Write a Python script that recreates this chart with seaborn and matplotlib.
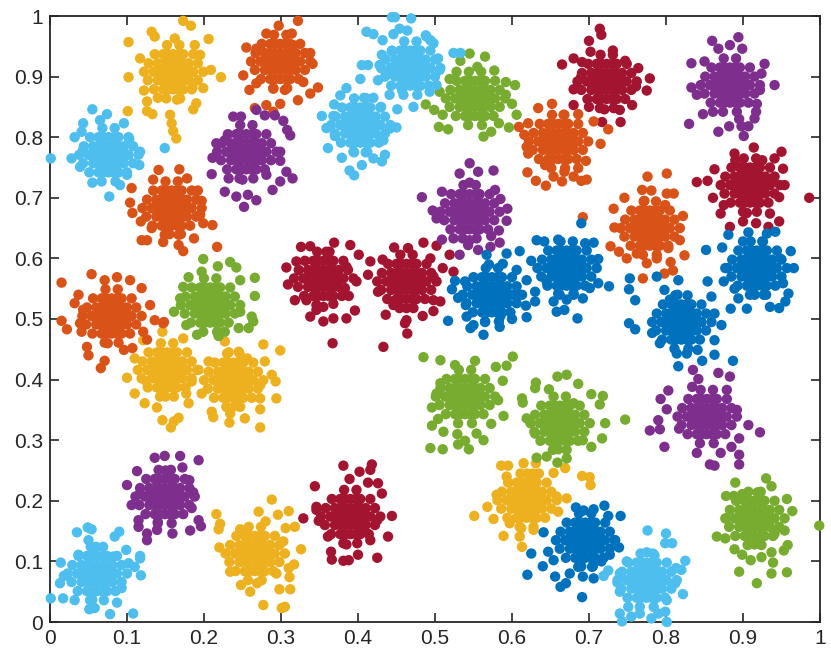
import matplotlib
matplotlib.use("Agg")
import matplotlib.pyplot as plt
import pandas as pd
import seaborn as sns

red = [
(.342,.596),(.355,.596),(.368,.596),(.335,.581),(.348,.581),(.362,.581),(.375,.581),(.329,.567),(.342,.567),(.355,.567),(.368,.567),(.381,.567),(.335,.553),(.348,.553),(.362,.553),(.375,.553),(.342,.538),(.355,.538),(.368,.538),(.355,.520),(.368,.525),
(.326,.619),(.338,.620),(.369,.626),(.390,.622),(.359,.611),(.401,.606),(.307,.585),(.320,.595),(.309,.557),(.318,.531),(.333,.531),(.346,.515),(.338,.504),(.355,.496),(.368,.501),(.385,.501),(.396,.514),(.388,.538),(.398,.562),(.383,.551),(.385,.586),(.367,.460),
(.450,.591),(.463,.591),(.476,.591),(.443,.576),(.456,.576),(.470,.576),(.483,.576),(.437,.562),(.450,.562),(.463,.562),(.476,.562),(.489,.562),(.443,.548),(.456,.548),(.470,.548),(.483,.548),(.450,.533),(.463,.533),(.476,.533),(.463,.518),
(.416,.595),(.413,.573),(.432,.598),(.447,.618),(.465,.617),(.485,.626),(.502,.621),(.426,.545),(.436,.507),(.446,.523),(.463,.498),(.484,.505),(.498,.531),(.519,.606),(.510,.584),(.524,.578),(.494,.600),(.498,.570),(.507,.529),(.498,.513),(.433,.454),(.464,.476),(.461,.493),
(.710,.921),(.723,.921),(.736,.921),(.703,.906),(.716,.906),(.730,.906),(.743,.906),(.697,.892),(.710,.892),(.723,.892),(.736,.892),(.749,.892),(.703,.878),(.716,.878),(.730,.878),(.743,.878),(.710,.863),(.723,.863),(.736,.863),(.700,.850),(.720,.846),
(.714,.979),(.716,.969),(.700,.959),(.702,.941),(.731,.943),(.680,.930),(.665,.920),(.691,.924),(.747,.926),(.764,.914),(.779,.897),(.761,.884),(.775,.877),(.680,.879),(.690,.900),(.680,.853),(.756,.853),(.741,.825),(.717,.825),(.740,.845),
(.896,.750),(.909,.750),(.922,.750),(.889,.735),(.902,.735),(.916,.735),(.929,.735),(.883,.721),(.896,.721),(.909,.721),(.922,.721),(.935,.721),(.889,.707),(.902,.707),(.916,.707),(.929,.707),(.896,.692),(.909,.692),(.922,.692),(.890,.762),(.925,.762),(.905,.675),
(.914,.783),(.950,.776),(.889,.773),(.941,.765),(.952,.748),(.863,.747),(.840,.726),(.854,.728),(.954,.721),(.947,.701),(.861,.700),(.986,.700),(.875,.688),(.871,.674),(.883,.652),(.933,.652),(.947,.661),(.935,.674),(.917,.658),(.900,.661),(.939,.730),
(.377,.203),(.390,.203),(.403,.203),(.370,.188),(.383,.188),(.397,.188),(.410,.188),(.364,.174),(.377,.174),(.390,.174),(.403,.174),(.416,.174),(.370,.160),(.383,.160),(.397,.160),(.410,.160),(.377,.145),(.390,.145),(.403,.145),(.385,.128),
(.418,.260),(.416,.251),(.381,.258),(.402,.248),(.389,.236),(.344,.224),(.426,.229),(.413,.230),(.431,.212),(.346,.190),(.346,.185),(.329,.171),(.444,.175),(.349,.167),(.425,.168),(.361,.141),(.439,.141),(.365,.116),(.366,.103),(.381,.101),(.388,.102),(.400,.111),(.425,.106),(.416,.135),(.407,.149),
]
red_dense = [
(.348,.596),(.362,.596),(.342,.581),(.355,.581),(.368,.581),(.335,.567),(.348,.567),(.362,.567),(.375,.567),(.342,.553),(.355,.553),(.368,.553),(.348,.538),(.362,.538),(.347,.611),(.363,.611),(.331,.596),(.381,.596),(.323,.581),(.387,.581),(.317,.567),(.394,.567),(.322,.553),(.330,.538),(.379,.538),(.346,.523),
(.456,.591),(.470,.591),(.450,.576),(.463,.576),(.476,.576),(.443,.562),(.456,.562),(.470,.562),(.483,.562),(.450,.548),(.463,.548),(.476,.548),(.456,.533),(.470,.533),(.455,.606),(.471,.606),(.439,.591),(.489,.591),(.431,.576),(.495,.576),(.425,.562),(.502,.562),(.430,.548),(.495,.548),(.438,.533),(.487,.533),(.454,.518),(.472,.518),
(.716,.921),(.730,.921),(.710,.906),(.723,.906),(.736,.906),(.703,.892),(.716,.892),(.730,.892),(.743,.892),(.710,.878),(.723,.878),(.736,.878),(.716,.863),(.730,.863),(.715,.936),(.731,.936),(.699,.921),(.749,.921),(.691,.906),(.755,.906),(.685,.892),(.762,.892),(.690,.878),(.755,.878),(.698,.863),(.747,.863),(.714,.848),(.732,.848),
(.902,.750),(.916,.750),(.896,.735),(.909,.735),(.922,.735),(.889,.721),(.902,.721),(.916,.721),(.929,.721),(.896,.707),(.909,.707),(.922,.707),(.902,.692),(.916,.692),(.901,.765),(.917,.765),(.885,.750),(.935,.750),(.877,.735),(.941,.735),(.871,.721),(.948,.721),(.876,.707),(.941,.707),(.884,.692),(.933,.692),(.900,.677),(.918,.677),
(.383,.203),(.397,.203),(.377,.188),(.390,.188),(.403,.188),(.370,.174),(.383,.174),(.397,.174),(.410,.174),(.377,.160),(.390,.160),(.403,.160),(.383,.145),(.397,.145),(.382,.218),(.398,.218),(.366,.203),(.416,.203),(.358,.188),(.422,.188),(.352,.174),(.429,.174),(.357,.160),(.422,.160),(.365,.145),(.414,.145),(.381,.130),(.399,.130),
]

yellow = [
(.147,.937),(.160,.937),(.173,.937),(.140,.922),(.153,.922),(.167,.922),(.180,.922),(.134,.908),(.147,.908),(.160,.908),(.173,.908),(.186,.908),(.140,.894),(.153,.894),(.167,.894),(.180,.894),(.147,.879),(.160,.879),(.173,.879),(.185,.882),(.140,.865),(.165,.862),
(.173,.992),(.183,.984),(.132,.974),(.136,.966),(.102,.957),(.206,.962),(.117,.930),(.102,.899),(.222,.899),(.209,.911),(.122,.877),(.101,.843),(.126,.859),(.126,.843),(.133,.838),(.156,.837),(.158,.823),(.160,.810),(.164,.798),(.186,.846),(.190,.856),(.199,.881),(.195,.936),(.188,.952),(.162,.963),
(.139,.445),(.152,.445),(.165,.445),(.132,.430),(.145,.430),(.159,.430),(.172,.430),(.126,.416),(.139,.416),(.152,.416),(.165,.416),(.178,.416),(.132,.402),(.145,.402),(.159,.402),(.172,.402),(.139,.387),(.152,.387),(.165,.387),(.150,.372),
(.146,.479),(.173,.468),(.110,.435),(.100,.403),(.110,.377),(.123,.361),(.139,.354),(.146,.333),(.167,.337),(.161,.331),(.157,.321),(.180,.361),(.193,.416),(.184,.397),(.177,.377),(.121,.465),(.125,.397),
(.225,.428),(.238,.428),(.251,.428),(.218,.413),(.231,.413),(.245,.413),(.258,.413),(.212,.399),(.225,.399),(.238,.399),(.251,.399),(.264,.399),(.218,.385),(.231,.385),(.245,.385),(.258,.385),(.225,.370),(.238,.370),(.251,.370),(.232,.445),(.240,.356),
(.227,.463),(.245,.446),(.277,.458),(.299,.448),(.279,.430),(.256,.435),(.206,.430),(.197,.377),(.210,.347),(.212,.338),(.233,.329),(.253,.336),(.273,.321),(.273,.351),(.294,.369),(.293,.397),(.288,.408),(.234,.344),(.273,.391),(.273,.369),
(.253,.142),(.266,.142),(.279,.142),(.246,.127),(.259,.127),(.273,.127),(.286,.127),(.240,.113),(.253,.113),(.266,.113),(.279,.113),(.292,.113),(.246,.099),(.259,.099),(.273,.099),(.286,.099),(.253,.084),(.266,.084),(.279,.084),
(.288,.202),(.271,.182),(.296,.177),(.310,.183),(.216,.178),(.221,.162),(.219,.153),(.280,.166),(.306,.155),(.318,.157),(.247,.153),(.220,.123),(.303,.133),(.326,.120),(.317,.095),(.310,.089),(.311,.074),(.298,.054),(.312,.054),(.277,.028),(.301,.023),(.305,.025),(.248,.061),(.260,.050),(.269,.064),(.234,.083),(.294,.080),
(.606,.230),(.619,.230),(.632,.230),(.599,.215),(.612,.215),(.626,.215),(.639,.215),(.593,.201),(.606,.201),(.619,.201),(.632,.201),(.645,.201),(.599,.187),(.612,.187),(.626,.187),(.639,.187),(.606,.172),(.619,.172),(.632,.172),(.620,.245),(.635,.245),(.612,.155),
(.586,.258),(.595,.258),(.615,.262),(.631,.262),(.654,.246),(.669,.254),(.691,.241),(.701,.239),(.702,.226),(.671,.204),(.551,.175),(.568,.190),(.576,.170),(.589,.142),(.610,.141),(.613,.124),(.628,.152),(.660,.182),(.580,.210),(.593,.240),(.658,.207),(.597,.163),
]
yellow_dense = [
(.153,.937),(.167,.937),(.147,.922),(.160,.922),(.173,.922),(.140,.908),(.153,.908),(.167,.908),(.180,.908),(.147,.894),(.160,.894),(.173,.894),(.153,.879),(.167,.879),(.152,.952),(.168,.952),(.136,.937),(.186,.937),(.128,.922),(.192,.922),(.122,.908),(.199,.908),(.127,.894),(.192,.894),(.135,.879),(.184,.879),(.151,.864),(.169,.864),
(.145,.445),(.159,.445),(.139,.430),(.152,.430),(.165,.430),(.132,.416),(.145,.416),(.159,.416),(.172,.416),(.139,.402),(.152,.402),(.165,.402),(.145,.387),(.159,.387),(.144,.460),(.160,.460),(.128,.445),(.178,.445),(.120,.430),(.184,.430),(.114,.416),(.191,.416),(.119,.402),(.184,.402),(.127,.387),(.176,.387),(.143,.372),(.161,.372),
(.231,.428),(.245,.428),(.225,.413),(.238,.413),(.251,.413),(.218,.399),(.231,.399),(.245,.399),(.258,.399),(.225,.385),(.238,.385),(.251,.385),(.231,.370),(.245,.370),(.230,.443),(.246,.443),(.214,.428),(.264,.428),(.206,.413),(.270,.413),(.200,.399),(.277,.399),(.205,.385),(.270,.385),(.213,.370),(.262,.370),(.229,.355),(.247,.355),
(.259,.142),(.273,.142),(.253,.127),(.266,.127),(.279,.127),(.246,.113),(.259,.113),(.273,.113),(.286,.113),(.253,.099),(.266,.099),(.279,.099),(.259,.084),(.273,.084),(.258,.157),(.274,.157),(.242,.142),(.292,.142),(.234,.127),(.298,.127),(.228,.113),(.305,.113),(.233,.099),(.298,.099),(.241,.084),(.290,.084),(.257,.069),(.275,.069),
(.612,.230),(.626,.230),(.606,.215),(.619,.215),(.632,.215),(.599,.201),(.612,.201),(.626,.201),(.639,.201),(.606,.187),(.619,.187),(.632,.187),(.612,.172),(.626,.172),(.611,.245),(.627,.245),(.595,.230),(.645,.230),(.587,.215),(.651,.215),(.581,.201),(.658,.201),(.586,.187),(.651,.187),(.594,.172),(.643,.172),(.610,.157),(.628,.157),
]

orange = [
(.286,.954),(.299,.954),(.312,.954),(.279,.939),(.292,.939),(.306,.939),(.319,.939),(.273,.925),(.286,.925),(.299,.925),(.312,.925),(.325,.925),(.279,.911),(.292,.911),(.306,.911),(.319,.911),(.286,.896),(.299,.896),(.312,.896),(.290,.880),(.305,.878),
(.322,.992),(.297,.984),(.281,.971),(.314,.971),(.255,.948),(.338,.939),(.341,.921),(.251,.902),(.259,.878),(.348,.882),(.338,.872),(.322,.861),(.266,.848),(.281,.853),(.299,.855),(.290,.842),(.329,.891),(.268,.946),(.268,.889),(.316,.952),
(.145,.712),(.158,.712),(.171,.712),(.138,.697),(.151,.697),(.165,.697),(.178,.697),(.132,.683),(.145,.683),(.158,.683),(.171,.683),(.184,.683),(.138,.669),(.151,.669),(.165,.669),(.178,.669),(.145,.654),(.158,.654),(.171,.654),(.155,.640),(.170,.640),
(.141,.746),(.168,.747),(.178,.732),(.134,.730),(.192,.712),(.106,.716),(.197,.695),(.104,.692),(.107,.675),(.118,.661),(.211,.655),(.199,.658),(.119,.630),(.126,.630),(.147,.627),(.167,.622),(.173,.612),(.187,.633),(.217,.619),(.195,.672),(.132,.650),
(.067,.534),(.080,.534),(.093,.534),(.060,.519),(.073,.519),(.087,.519),(.100,.519),(.054,.505),(.067,.505),(.080,.505),(.093,.505),(.106,.505),(.060,.491),(.073,.491),(.087,.491),(.100,.491),(.067,.476),(.080,.476),(.093,.476),(.075,.460),
(.054,.574),(.015,.560),(.087,.569),(.071,.564),(.104,.564),(.119,.551),(.037,.540),(.032,.526),(.043,.515),(.130,.523),(.136,.498),(.148,.495),(.015,.497),(.039,.493),(.022,.483),(.041,.479),(.050,.440),(.071,.431),(.066,.419),(.107,.452),(.096,.449),(.126,.466),(.147,.493),(.121,.479),(.048,.454),
(.647,.822),(.660,.822),(.673,.822),(.640,.807),(.653,.807),(.667,.807),(.680,.807),(.634,.793),(.647,.793),(.660,.793),(.673,.793),(.686,.793),(.640,.779),(.653,.779),(.667,.779),(.680,.779),(.647,.764),(.660,.764),(.673,.764),
(.652,.855),(.634,.848),(.609,.817),(.621,.823),(.616,.804),(.619,.784),(.621,.773),(.620,.742),(.631,.728),(.644,.720),(.654,.735),(.665,.727),(.680,.735),(.690,.728),(.697,.730),(.686,.749),(.696,.761),(.715,.789),(.725,.813),(.706,.826),(.686,.838),(.667,.837),(.643,.754),(.668,.743),
(.766,.679),(.779,.679),(.792,.679),(.759,.664),(.772,.664),(.786,.664),(.799,.664),(.753,.650),(.766,.650),(.779,.650),(.792,.650),(.805,.650),(.759,.636),(.772,.636),(.786,.636),(.799,.636),(.766,.621),(.779,.621),(.792,.621),
(.776,.735),(.801,.740),(.769,.713),(.781,.712),(.801,.707),(.810,.707),(.746,.700),(.732,.682),(.799,.688),(.822,.670),(.733,.651),(.728,.620),(.739,.611),(.749,.600),(.818,.630),(.824,.605),(.806,.594),(.809,.580),(.798,.575),(.770,.567),(.692,.668),(.775,.592),(.788,.600),(.762,.608),(.803,.617),(.772,.695),
]
orange_dense = [
(.292,.954),(.306,.954),(.286,.939),(.299,.939),(.312,.939),(.279,.925),(.292,.925),(.306,.925),(.319,.925),(.286,.911),(.299,.911),(.312,.911),(.292,.896),(.306,.896),(.291,.969),(.307,.969),(.275,.954),(.325,.954),(.267,.939),(.331,.939),(.261,.925),(.338,.925),(.266,.911),(.331,.911),(.274,.896),(.323,.896),(.290,.881),(.308,.881),
(.151,.712),(.165,.712),(.145,.697),(.158,.697),(.171,.697),(.138,.683),(.151,.683),(.165,.683),(.178,.683),(.145,.669),(.158,.669),(.171,.669),(.151,.654),(.165,.654),(.150,.727),(.166,.727),(.134,.712),(.184,.712),(.126,.697),(.190,.697),(.120,.683),(.197,.683),(.125,.669),(.190,.669),(.133,.654),(.182,.654),(.149,.639),(.167,.639),
(.073,.534),(.087,.534),(.067,.519),(.080,.519),(.093,.519),(.060,.505),(.073,.505),(.087,.505),(.100,.505),(.067,.491),(.080,.491),(.093,.491),(.073,.476),(.087,.476),(.072,.549),(.088,.549),(.056,.534),(.106,.534),(.048,.519),(.112,.519),(.042,.505),(.119,.505),(.047,.491),(.112,.491),(.055,.476),(.104,.476),(.071,.461),(.089,.461),
(.653,.822),(.667,.822),(.647,.807),(.660,.807),(.673,.807),(.640,.793),(.653,.793),(.667,.793),(.680,.793),(.647,.779),(.660,.779),(.673,.779),(.653,.764),(.667,.764),(.652,.837),(.668,.837),(.636,.822),(.686,.822),(.628,.807),(.692,.807),(.622,.793),(.699,.793),(.627,.779),(.692,.779),(.635,.764),(.684,.764),(.651,.749),(.669,.749),
(.772,.679),(.786,.679),(.766,.664),(.779,.664),(.792,.664),(.759,.650),(.772,.650),(.786,.650),(.799,.650),(.766,.636),(.779,.636),(.792,.636),(.772,.621),(.786,.621),(.771,.694),(.787,.694),(.755,.679),(.805,.679),(.747,.664),(.811,.664),(.741,.650),(.818,.650),(.746,.636),(.811,.636),(.754,.621),(.803,.621),(.770,.606),(.788,.606),
]

green = [
(.195,.552),(.208,.552),(.221,.552),(.188,.537),(.201,.537),(.215,.537),(.228,.537),(.182,.523),(.195,.523),(.208,.523),(.221,.523),(.234,.523),(.188,.509),(.201,.509),(.215,.509),(.228,.509),(.195,.494),(.208,.494),(.221,.494),
(.199,.599),(.218,.587),(.234,.594),(.242,.585),(.197,.578),(.180,.569),(.266,.568),(.247,.564),(.173,.553),(.266,.538),(.169,.534),(.161,.512),(.262,.504),(.247,.512),(.258,.485),(.191,.474),(.219,.472),(.227,.479),(.245,.485),(.177,.490),(.264,.496),
(.539,.893),(.552,.893),(.565,.893),(.532,.878),(.545,.878),(.559,.878),(.572,.878),(.526,.864),(.539,.864),(.552,.864),(.565,.864),(.578,.864),(.532,.850),(.545,.850),(.559,.850),(.572,.850),(.539,.835),(.552,.835),(.565,.835),
(.545,.938),(.565,.933),(.533,.926),(.555,.916),(.577,.910),(.519,.896),(.604,.886),(.592,.891),(.592,.870),(.600,.855),(.606,.837),(.488,.854),(.499,.845),(.505,.817),(.517,.813),(.596,.816),(.583,.823),(.563,.801),(.573,.809),(.510,.837),(.506,.875),(.528,.908),
(.526,.401),(.539,.401),(.552,.401),(.519,.386),(.532,.386),(.546,.386),(.559,.386),(.513,.372),(.526,.372),(.539,.372),(.552,.372),(.565,.372),(.519,.358),(.532,.358),(.546,.358),(.559,.358),(.526,.343),(.539,.343),(.552,.343),
(.485,.437),(.601,.438),(.507,.432),(.552,.431),(.593,.423),(.579,.421),(.526,.424),(.507,.394),(.588,.398),(.582,.366),(.496,.354),(.589,.340),(.504,.335),(.496,.324),(.573,.327),(.511,.314),(.529,.310),(.554,.311),(.539,.299),(.530,.293),(.563,.300),(.494,.287),(.510,.285),(.544,.285),(.502,.377),
(.649,.357),(.662,.357),(.675,.357),(.642,.342),(.655,.342),(.669,.342),(.682,.342),(.636,.328),(.649,.328),(.662,.328),(.675,.328),(.688,.328),(.642,.314),(.655,.314),(.669,.314),(.682,.314),(.649,.299),(.662,.299),(.675,.299),(.660,.285),
(.671,.408),(.659,.405),(.631,.395),(.630,.386),(.648,.384),(.686,.393),(.703,.376),(.718,.373),(.613,.369),(.614,.362),(.714,.359),(.747,.334),(.619,.336),(.721,.328),(.717,.303),(.703,.289),(.632,.271),(.645,.273),(.659,.263),(.671,.270),(.680,.361),(.630,.311),(.692,.300),
(.902,.200),(.915,.200),(.928,.200),(.895,.185),(.908,.185),(.922,.185),(.935,.185),(.889,.171),(.902,.171),(.915,.171),(.928,.171),(.941,.171),(.895,.157),(.908,.157),(.922,.157),(.935,.157),(.902,.142),(.915,.142),(.928,.142),(.915,.128),
(.930,.237),(.890,.230),(.937,.224),(.878,.208),(.888,.208),(.899,.211),(.919,.214),(.957,.203),(.964,.183),(.999,.159),(.878,.171),(.954,.151),(.866,.141),(.877,.138),(.958,.127),(.889,.120),(.953,.118),(.899,.111),(.910,.102),(.924,.107),(.937,.115),(.939,.098),(.895,.083),(.937,.080),(.957,.082),(.918,.064),(.941,.146),
]
green_dense = [
(.201,.552),(.215,.552),(.195,.537),(.208,.537),(.221,.537),(.188,.523),(.201,.523),(.215,.523),(.228,.523),(.195,.509),(.208,.509),(.221,.509),(.201,.494),(.215,.494),(.200,.567),(.216,.567),(.184,.552),(.234,.552),(.176,.537),(.240,.537),(.170,.523),(.247,.523),(.175,.509),(.240,.509),(.183,.494),(.232,.494),(.199,.479),(.217,.479),
(.545,.893),(.559,.893),(.539,.878),(.552,.878),(.565,.878),(.532,.864),(.545,.864),(.559,.864),(.572,.864),(.539,.850),(.552,.850),(.565,.850),(.545,.835),(.559,.835),(.544,.908),(.560,.908),(.528,.893),(.578,.893),(.520,.878),(.584,.878),(.514,.864),(.591,.864),(.519,.850),(.584,.850),(.527,.835),(.576,.835),(.543,.820),(.561,.820),
(.532,.401),(.546,.401),(.526,.386),(.539,.386),(.552,.386),(.519,.372),(.532,.372),(.546,.372),(.559,.372),(.526,.358),(.539,.358),(.552,.358),(.532,.343),(.546,.343),(.531,.416),(.547,.416),(.515,.401),(.565,.401),(.507,.386),(.571,.386),(.501,.372),(.578,.372),(.506,.358),(.571,.358),(.514,.343),(.563,.343),(.530,.328),(.548,.328),
(.655,.357),(.669,.357),(.649,.342),(.662,.342),(.675,.342),(.642,.328),(.655,.328),(.669,.328),(.682,.328),(.649,.314),(.662,.314),(.675,.314),(.655,.299),(.669,.299),(.654,.372),(.670,.372),(.638,.357),(.688,.357),(.630,.342),(.694,.342),(.624,.328),(.701,.328),(.629,.314),(.694,.314),(.637,.299),(.686,.299),(.653,.284),(.671,.284),
(.908,.200),(.922,.200),(.902,.185),(.915,.185),(.928,.185),(.895,.171),(.908,.171),(.922,.171),(.935,.171),(.902,.157),(.915,.157),(.928,.157),(.908,.142),(.922,.142),(.907,.215),(.923,.215),(.891,.200),(.941,.200),(.883,.185),(.947,.185),(.877,.171),(.954,.171),(.882,.157),(.947,.157),(.890,.142),(.939,.142),(.906,.127),(.924,.127),
]

purple = [
(.242,.805),(.255,.805),(.268,.805),(.235,.790),(.248,.790),(.262,.790),(.275,.790),(.229,.776),(.242,.776),(.255,.776),(.268,.776),(.281,.776),(.235,.762),(.248,.762),(.262,.762),(.275,.762),(.242,.747),(.255,.747),(.268,.747),(.250,.730),
(.238,.834),(.248,.834),(.268,.845),(.279,.836),(.292,.836),(.303,.827),(.308,.812),(.312,.803),(.227,.795),(.216,.790),(.211,.766),(.210,.739),(.299,.776),(.299,.761),(.307,.743),(.315,.732),(.299,.727),(.289,.713),(.227,.710),(.242,.702),(.252,.685),(.268,.696),(.257,.705),(.232,.732),(.281,.738),
(.532,.706),(.545,.706),(.558,.706),(.525,.691),(.538,.691),(.552,.691),(.565,.691),(.519,.677),(.532,.677),(.545,.677),(.558,.677),(.571,.677),(.525,.663),(.538,.663),(.552,.663),(.565,.663),(.532,.648),(.545,.648),(.558,.648),(.545,.630),
(.545,.757),(.532,.740),(.556,.743),(.576,.745),(.509,.710),(.578,.713),(.585,.698),(.594,.682),(.497,.679),(.502,.666),(.593,.662),(.583,.646),(.573,.637),(.584,.626),(.509,.631),(.532,.606),(.556,.614),(.572,.619),(.483,.701),(.524,.633),(.543,.622),(.545,.725),
(.870,.915),(.883,.915),(.896,.915),(.863,.900),(.876,.900),(.890,.900),(.903,.900),(.857,.886),(.870,.886),(.883,.886),(.896,.886),(.909,.886),(.863,.872),(.876,.872),(.890,.872),(.903,.872),(.870,.857),(.883,.857),(.896,.857),
(.894,.965),(.860,.959),(.883,.952),(.899,.946),(.868,.946),(.833,.922),(.850,.925),(.928,.921),(.924,.905),(.941,.886),(.833,.882),(.922,.878),(.840,.870),(.918,.855),(.917,.842),(.848,.838),(.830,.822),(.868,.809),(.882,.818),(.895,.830),(.898,.818),(.907,.818),(.901,.802),(.915,.831),(.861,.842),
(.840,.368),(.853,.368),(.866,.368),(.833,.353),(.846,.353),(.860,.353),(.873,.353),(.827,.339),(.840,.339),(.853,.339),(.866,.339),(.879,.339),(.833,.325),(.846,.325),(.860,.325),(.873,.325),(.840,.310),(.853,.310),(.866,.310),
(.835,.416),(.842,.401),(.868,.411),(.883,.405),(.803,.382),(.793,.368),(.801,.351),(.790,.333),(.779,.316),(.792,.318),(.817,.319),(.798,.289),(.840,.279),(.871,.279),(.885,.289),(.895,.276),(.857,.260),(.863,.258),(.895,.260),(.895,.303),(.922,.313),(.907,.325),(.892,.350),(.879,.383),(.834,.388),
(.136,.236),(.149,.236),(.162,.236),(.129,.221),(.142,.221),(.156,.221),(.169,.221),(.123,.207),(.136,.207),(.149,.207),(.162,.207),(.175,.207),(.129,.193),(.142,.193),(.156,.193),(.169,.193),(.136,.178),(.149,.178),(.162,.178),(.150,.250),(.140,.165),
(.136,.271),(.149,.274),(.169,.274),(.193,.267),(.113,.249),(.172,.255),(.100,.226),(.181,.234),(.186,.214),(.106,.193),(.184,.188),(.193,.168),(.196,.158),(.115,.168),(.115,.157),(.182,.151),(.159,.146),(.126,.135),(.139,.152),(.126,.146),(.117,.212),
]
purple_dense = [
(.248,.805),(.262,.805),(.242,.790),(.255,.790),(.268,.790),(.235,.776),(.248,.776),(.262,.776),(.275,.776),(.242,.762),(.255,.762),(.268,.762),(.248,.747),(.262,.747),(.247,.820),(.263,.820),(.231,.805),(.281,.805),(.223,.790),(.287,.790),(.217,.776),(.294,.776),(.222,.762),(.287,.762),(.230,.747),(.279,.747),(.246,.732),(.264,.732),
(.538,.706),(.552,.706),(.532,.691),(.545,.691),(.558,.691),(.525,.677),(.538,.677),(.552,.677),(.565,.677),(.532,.663),(.545,.663),(.558,.663),(.538,.648),(.552,.648),(.537,.721),(.553,.721),(.521,.706),(.571,.706),(.513,.691),(.577,.691),(.507,.677),(.584,.677),(.512,.663),(.577,.663),(.520,.648),(.569,.648),(.536,.633),(.554,.633),
(.876,.915),(.890,.915),(.870,.900),(.883,.900),(.896,.900),(.863,.886),(.876,.886),(.890,.886),(.903,.886),(.870,.872),(.883,.872),(.896,.872),(.876,.857),(.890,.857),(.875,.930),(.891,.930),(.859,.915),(.909,.915),(.851,.900),(.915,.900),(.845,.886),(.922,.886),(.850,.872),(.915,.872),(.858,.857),(.907,.857),(.874,.842),(.892,.842),
(.846,.368),(.860,.368),(.840,.353),(.853,.353),(.866,.353),(.833,.339),(.846,.339),(.860,.339),(.873,.339),(.840,.325),(.853,.325),(.866,.325),(.846,.310),(.860,.310),(.845,.383),(.861,.383),(.829,.368),(.879,.368),(.821,.353),(.885,.353),(.815,.339),(.892,.339),(.820,.325),(.885,.325),(.828,.310),(.877,.310),(.844,.295),(.862,.295),
(.142,.236),(.156,.236),(.136,.221),(.149,.221),(.162,.221),(.129,.207),(.142,.207),(.156,.207),(.169,.207),(.136,.193),(.149,.193),(.162,.193),(.142,.178),(.156,.178),(.141,.251),(.157,.251),(.125,.236),(.175,.236),(.117,.221),(.181,.221),(.111,.207),(.188,.207),(.116,.193),(.181,.193),(.124,.178),(.173,.178),(.140,.163),(.158,.163),
]

blue = [
(.561,.569),(.574,.569),(.587,.569),(.554,.554),(.567,.554),(.581,.554),(.594,.554),(.548,.540),(.561,.540),(.574,.540),(.587,.540),(.600,.540),(.554,.526),(.567,.526),(.581,.526),(.594,.526),(.561,.511),(.574,.511),(.587,.511),(.570,.590),(.565,.495),
(.593,.608),(.610,.612),(.588,.591),(.606,.581),(.526,.563),(.522,.549),(.517,.497),(.619,.503),(.618,.522),(.541,.504),(.540,.523),(.539,.562),(.567,.606),(.563,.474),(.546,.485),(.584,.487),(.600,.500),(.530,.535),(.610,.540),(.550,.490),(.585,.505),
(.658,.613),(.671,.613),(.684,.613),(.651,.598),(.664,.598),(.678,.598),(.691,.598),(.645,.584),(.658,.584),(.671,.584),(.684,.584),(.697,.584),(.651,.570),(.664,.570),(.678,.570),(.691,.570),(.658,.555),(.671,.555),(.684,.555),(.660,.542),(.680,.542),
(.632,.630),(.642,.628),(.660,.631),(.706,.626),(.695,.625),(.712,.599),(.625,.596),(.619,.564),(.726,.554),(.712,.559),(.630,.529),(.654,.529),(.658,.512),(.668,.515),(.685,.501),(.692,.534),(.671,.532),(.630,.545),(.645,.562),(.701,.551),(.690,.658),
(.807,.524),(.820,.524),(.833,.524),(.800,.509),(.813,.509),(.827,.509),(.840,.509),(.794,.495),(.807,.495),(.820,.495),(.833,.495),(.846,.495),(.800,.481),(.813,.481),(.827,.481),(.840,.481),(.807,.466),(.820,.466),(.833,.466),(.815,.540),(.805,.532),
(.753,.567),(.752,.549),(.760,.531),(.788,.570),(.816,.564),(.854,.562),(.859,.537),(.863,.509),(.872,.490),(.798,.548),(.752,.493),(.760,.483),(.863,.465),(.863,.441),(.847,.431),(.887,.431),(.816,.422),(.827,.443),(.814,.443),(.841,.449),(.792,.460),(.782,.477),
(.905,.613),(.918,.613),(.931,.613),(.898,.598),(.911,.598),(.925,.598),(.938,.598),(.892,.584),(.905,.584),(.918,.584),(.931,.584),(.944,.584),(.898,.570),(.911,.570),(.925,.570),(.938,.570),(.905,.555),(.918,.555),(.931,.555),(.915,.540),(.930,.540),(.900,.628),(.925,.628),
(.852,.614),(.873,.618),(.881,.639),(.907,.643),(.931,.641),(.942,.644),(.962,.612),(.966,.584),(.952,.559),(.959,.542),(.955,.529),(.947,.518),(.935,.520),(.905,.517),(.894,.534),(.884,.517),(.875,.562),(.877,.584),(.948,.600),(.889,.550),
(.682,.164),(.695,.164),(.708,.164),(.675,.149),(.688,.149),(.702,.149),(.715,.149),(.669,.135),(.682,.135),(.695,.135),(.708,.135),(.721,.135),(.675,.121),(.688,.121),(.702,.121),(.715,.121),(.682,.106),(.695,.106),(.708,.106),(.690,.092),(.705,.092),
(.683,.189),(.693,.184),(.706,.186),(.720,.192),(.741,.175),(.725,.175),(.641,.148),(.625,.113),(.647,.116),(.640,.092),(.620,.078),(.656,.075),(.663,.058),(.670,.064),(.691,.041),(.706,.072),(.739,.123),(.727,.111),(.733,.135),(.716,.100),(.675,.080),(.692,.075),(.654,.102),
]
blue_dense = [
(.567,.569),(.581,.569),(.561,.554),(.574,.554),(.587,.554),(.554,.540),(.567,.540),(.581,.540),(.594,.540),(.561,.526),(.574,.526),(.587,.526),(.567,.511),(.581,.511),(.566,.584),(.582,.584),(.550,.569),(.600,.569),(.542,.554),(.606,.554),(.536,.540),(.613,.540),(.541,.526),(.606,.526),(.549,.511),(.598,.511),(.565,.496),(.583,.496),
(.664,.613),(.678,.613),(.658,.598),(.671,.598),(.684,.598),(.651,.584),(.664,.584),(.678,.584),(.691,.584),(.658,.570),(.671,.570),(.684,.570),(.664,.555),(.678,.555),(.663,.628),(.679,.628),(.647,.613),(.697,.613),(.639,.598),(.703,.598),(.633,.584),(.710,.584),(.638,.570),(.703,.570),(.646,.555),(.695,.555),(.662,.540),(.680,.540),
(.813,.524),(.827,.524),(.807,.509),(.820,.509),(.833,.509),(.800,.495),(.813,.495),(.827,.495),(.840,.495),(.807,.481),(.820,.481),(.833,.481),(.813,.466),(.827,.466),(.812,.539),(.828,.539),(.796,.524),(.846,.524),(.788,.509),(.852,.509),(.782,.495),(.859,.495),(.787,.481),(.852,.481),(.795,.466),(.844,.466),(.811,.451),(.829,.451),
(.911,.613),(.925,.613),(.905,.598),(.918,.598),(.931,.598),(.898,.584),(.911,.584),(.925,.584),(.938,.584),(.905,.570),(.918,.570),(.931,.570),(.911,.555),(.925,.555),(.910,.628),(.926,.628),(.894,.613),(.944,.613),(.886,.598),(.950,.598),(.880,.584),(.957,.584),(.885,.570),(.950,.570),(.893,.555),(.942,.555),(.909,.540),(.927,.540),
(.688,.164),(.702,.164),(.682,.149),(.695,.149),(.708,.149),(.675,.135),(.688,.135),(.702,.135),(.715,.135),(.682,.121),(.695,.121),(.708,.121),(.688,.106),(.702,.106),(.687,.179),(.703,.179),(.671,.164),(.721,.164),(.663,.149),(.727,.149),(.657,.135),(.734,.135),(.662,.121),(.727,.121),(.670,.106),(.719,.106),(.686,.091),(.704,.091),
]

light_blue = [
(.063,.800),(.076,.800),(.089,.800),(.056,.785),(.069,.785),(.083,.785),(.096,.785),(.050,.771),(.063,.771),(.076,.771),(.089,.771),(.102,.771),(.056,.757),(.069,.757),(.083,.757),(.096,.757),(.063,.742),(.076,.742),(.089,.742),
(.001,.765),(.055,.846),(.074,.838),(.043,.823),(.096,.823),(.032,.800),(.041,.809),(.103,.797),(.117,.776),(.149,.782),(.028,.765),(.039,.751),(.116,.754),(.055,.725),(.077,.702),(.091,.721),(.100,.738),(.043,.779),(.065,.828),
(.390,.849),(.403,.849),(.416,.849),(.383,.834),(.396,.834),(.410,.834),(.423,.834),(.377,.820),(.390,.820),(.403,.820),(.416,.820),(.429,.820),(.383,.806),(.396,.806),(.410,.806),(.423,.806),(.390,.791),(.403,.791),(.416,.791),(.420,.865),(.408,.865),(.430,.850),(.395,.775),(.410,.775),
(.353,.835),(.359,.815),(.369,.854),(.377,.869),(.385,.881),(.403,.896),(.426,.894),(.441,.870),(.451,.846),(.450,.816),(.441,.814),(.433,.795),(.435,.771),(.431,.760),(.420,.765),(.405,.754),(.361,.782),(.379,.766),(.389,.745),(.395,.737),(.368,.835),(.370,.802),
(.455,.943),(.468,.943),(.481,.943),(.448,.928),(.461,.928),(.475,.928),(.488,.928),(.442,.914),(.455,.914),(.468,.914),(.481,.914),(.494,.914),(.448,.900),(.461,.900),(.475,.900),(.488,.900),(.455,.885),(.468,.885),(.481,.885),
(.444,.998),(.448,.998),(.469,.996),(.411,.974),(.420,.970),(.432,.960),(.446,.970),(.454,.979),(.464,.976),(.488,.968),(.494,.960),(.431,.936),(.428,.919),(.405,.919),(.413,.919),(.444,.941),(.437,.903),(.472,.850),(.457,.878),(.489,.966),(.498,.955),(.504,.930),(.506,.911),(.524,.939),(.533,.939),(.502,.886),(.493,.875),
(.048,.109),(.061,.109),(.074,.109),(.041,.094),(.054,.094),(.068,.094),(.081,.094),(.035,.080),(.048,.080),(.061,.080),(.074,.080),(.087,.080),(.041,.066),(.054,.066),(.068,.066),(.081,.066),(.048,.051),(.061,.051),(.074,.051),(.060,.124),(.055,.037),
(.035,.148),(.049,.156),(.054,.153),(.050,.135),(.090,.149),(.084,.141),(.099,.119),(.117,.109),(.117,.105),(.014,.098),(.110,.091),(.118,.077),(.102,.097),(.018,.076),(.013,.064),(.001,.039),(.017,.039),(.032,.036),(.093,.056),(.087,.032),(.078,.013),(.108,.014),(.051,.021),(.058,.023),(.037,.111),(.082,.108),
(.762,.098),(.775,.098),(.788,.098),(.755,.083),(.768,.083),(.782,.083),(.795,.083),(.749,.069),(.762,.069),(.775,.069),(.788,.069),(.801,.069),(.755,.055),(.768,.055),(.782,.055),(.795,.055),(.762,.040),(.775,.040),(.788,.040),(.775,.115),(.785,.110),
(.776,.151),(.800,.146),(.799,.130),(.808,.130),(.825,.101),(.820,.086),(.813,.089),(.812,.064),(.822,.046),(.725,.085),(.719,.076),(.737,.065),(.740,.080),(.740,.050),(.751,.025),(.740,.014),(.743,.001),(.755,.009),(.766,.014),(.781,.006),(.790,.014),(.799,.017),(.801,.000),(.801,.036),(.749,.100),
]
light_blue_dense = [
(.069,.800),(.083,.800),(.063,.785),(.076,.785),(.089,.785),(.056,.771),(.069,.771),(.083,.771),(.096,.771),(.063,.757),(.076,.757),(.089,.757),(.069,.742),(.083,.742),(.068,.815),(.084,.815),(.052,.800),(.102,.800),(.044,.785),(.108,.785),(.038,.771),(.115,.771),(.043,.757),(.108,.757),(.051,.742),(.100,.742),(.067,.727),(.085,.727),
(.396,.849),(.410,.849),(.390,.834),(.403,.834),(.416,.834),(.383,.820),(.396,.820),(.410,.820),(.423,.820),(.390,.806),(.403,.806),(.416,.806),(.396,.791),(.410,.791),(.395,.864),(.411,.864),(.379,.849),(.429,.849),(.371,.834),(.435,.834),(.365,.820),(.442,.820),(.370,.806),(.435,.806),(.378,.791),(.427,.791),(.394,.776),(.412,.776),
(.461,.943),(.475,.943),(.455,.928),(.468,.928),(.481,.928),(.448,.914),(.461,.914),(.475,.914),(.488,.914),(.455,.900),(.468,.900),(.481,.900),(.461,.885),(.475,.885),(.460,.958),(.476,.958),(.444,.943),(.494,.943),(.436,.928),(.500,.928),(.430,.914),(.507,.914),(.435,.900),(.500,.900),(.443,.885),(.492,.885),(.459,.870),(.477,.870),
(.054,.109),(.068,.109),(.048,.094),(.061,.094),(.074,.094),(.041,.080),(.054,.080),(.068,.080),(.081,.080),(.048,.066),(.061,.066),(.074,.066),(.054,.051),(.068,.051),(.053,.124),(.069,.124),(.037,.109),(.087,.109),(.029,.094),(.093,.094),(.023,.080),(.100,.080),(.028,.066),(.093,.066),(.036,.051),(.085,.051),(.052,.036),(.070,.036),
(.768,.098),(.782,.098),(.762,.083),(.775,.083),(.788,.083),(.755,.069),(.768,.069),(.782,.069),(.795,.069),(.762,.055),(.775,.055),(.788,.055),(.768,.040),(.782,.040),(.767,.113),(.783,.113),(.751,.098),(.801,.098),(.743,.083),(.807,.083),(.737,.069),(.814,.069),(.742,.055),(.807,.055),(.750,.040),(.799,.040),(.766,.025),(.784,.025),
]

series = {"red": red + red_dense, "yellow": yellow + yellow_dense,
          "orange": orange + orange_dense, "green": green + green_dense,
          "purple": purple + purple_dense, "blue": blue + blue_dense,
          "light blue": light_blue + light_blue_dense}
palette = {"blue": "#0072BD", "orange": "#D95319", "yellow": "#EDB120",
           "purple": "#7E2F8E", "green": "#77AC30", "light blue": "#4DBEEE",
           "red": "#A2142F"}
tick_values = [0, .1, .2, .3, .4, .5, .6, .7, .8, .9, 1]
tick_labels = ["0", "0.1", "0.2", "0.3", "0.4", "0.5", "0.6", "0.7", "0.8", "0.9", "1"]

rows = [(x, y, name) for name, pts in series.items() for x, y in pts]
df = pd.DataFrame(rows, columns=["x", "y", "cluster"])

sns.set_theme(style="ticks")
plt.rcParams["font.family"] = ["Liberation Sans", "DejaVu Sans"]

fig = plt.figure(figsize=(8.31, 6.64), dpi=100)
ax = fig.add_axes([50/831, 1 - 622/664, 770/831, 606/664])
sns.scatterplot(data=df, x="x", y="y", hue="cluster", palette=palette, s=56,
                linewidth=0, legend=False, clip_on=False, ax=ax, zorder=3)
ax.set_xlim(0, 1)
ax.set_ylim(0, 1)
ax.set_xlabel("")
ax.set_ylabel("")
ax.set_xticks(tick_values, tick_labels)
ax.set_yticks(tick_values, tick_labels)
ax.tick_params(axis="both", direction="in", length=6.5, width=1.2, color="#262626",
               labelcolor="#262626", labelsize=15, top=True, right=True, pad=5)
for spine in ax.spines.values():
    spine.set_visible(True)
    spine.set_linewidth(1.3)
    spine.set_color("#262626")
fig.savefig("out.png", dpi=100)
